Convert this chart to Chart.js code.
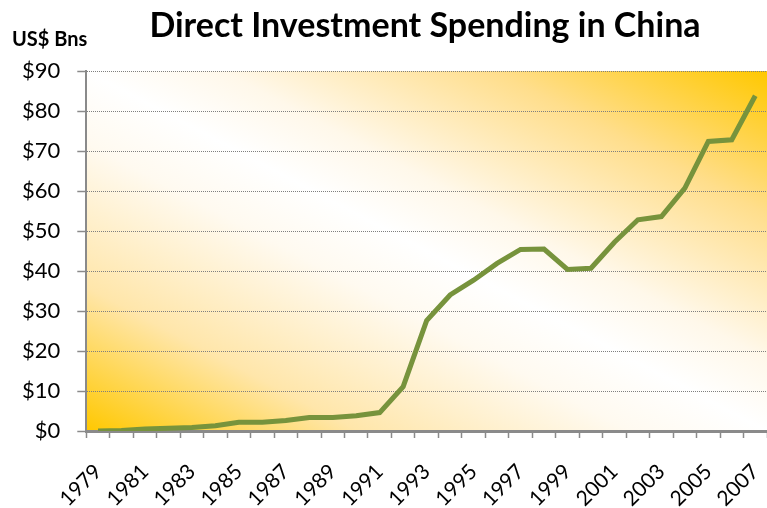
<!DOCTYPE html>
<html>
<head>
<meta charset="utf-8">
<script src="https://cdn.jsdelivr.net/npm/chart.js@4.4.1/dist/chart.umd.min.js"></script>
<style>
  body { margin: 0; background: #fff; }
  #wrap { width: 767px; height: 508px; position: relative; }
</style>
</head>
<body>
<div id="wrap"><canvas id="fdiChart" width="767" height="508"></canvas></div>
<script>
const years = ['1979','1980','1981','1982','1983','1984','1985','1986','1987','1988',
               '1989','1990','1991','1992','1993','1994','1995','1996','1997','1998',
               '1999','2000','2001','2002','2003','2004','2005','2006','2007'];
const investment = [0.0, 0.1, 0.5, 0.7, 0.9, 1.3, 2.2, 2.2, 2.6, 3.4,
                    3.4, 3.8, 4.6, 11.1, 27.6, 34.0, 37.7, 41.9, 45.4, 45.5,
                    40.4, 40.7, 47.2, 52.8, 53.6, 60.7, 72.4, 72.8, 83.8];
const yTicks = [0, 10, 20, 30, 40, 50, 60, 70, 80, 90];

const chartTitle = 'Direct Investment Spending in China';
const unitLabel = 'US$ Bns';
const FONT = 'Lato, "DejaVu Sans", sans-serif';

const backdrop = {
    id: 'backdrop',
    beforeDraw(chart) {
        const { ctx, chartArea: a } = chart;
        const cx = (a.left + a.right) / 2, cy = (a.top + a.bottom) / 2;
        const w = a.right - a.left, h = a.bottom - a.top;
        // bands run parallel to the top-left / bottom-right diagonal
        const len = Math.hypot(w, h);
        const ux = h / len, uy = -w / len;
        const d = Math.abs((-w / 2) * ux + (h / 2) * uy);
        const g = ctx.createLinearGradient(cx - d * ux, cy - d * uy, cx + d * ux, cy + d * uy);
        g.addColorStop(0, '#ffc800');
        g.addColorStop(0.2, '#ffe6aa');
        g.addColorStop(0.4, '#fffaf0');
        g.addColorStop(0.5, '#ffffff');
        g.addColorStop(0.6, '#fff8ea');
        g.addColorStop(0.8, '#ffde8c');
        g.addColorStop(1, '#ffc800');
        ctx.save();
        ctx.fillStyle = g;
        ctx.fillRect(a.left, a.top, w, h);
        ctx.restore();
    },
    afterDraw(chart) {
        const ctx = chart.ctx;
        const xs = chart.scales.x;
        ctx.save();
        ctx.fillStyle = '#000';
        ctx.font = 'bold 34px ' + FONT;
        ctx.textAlign = 'center';
        ctx.textBaseline = 'alphabetic';
        ctx.fillText(chartTitle, 425, 37);
        ctx.font = 'bold 20px ' + FONT;
        ctx.textAlign = 'left';
        ctx.fillText(unitLabel, 12, 46);

        // year labels, every other year, slanted at 45 degrees
        ctx.font = '21px ' + FONT;
        ctx.textAlign = 'right';
        ctx.textBaseline = 'middle';
        years.forEach((yr, i) => {
            if (i % 2 !== 0) return;
            const x = xs.getPixelForTick(i);
            ctx.save();
            ctx.translate(x, xs.top + 37);
            ctx.rotate(-Math.PI / 4);
            ctx.fillText(yr, 0, 0);
            ctx.restore();
        });
        ctx.restore();
    }
};

const ctx = document.getElementById('fdiChart').getContext('2d');
new Chart(ctx, {
    type: 'line',
    data: {
        labels: years,
        datasets: [{
            label: 'Direct investment',
            data: investment,
            borderColor: '#77933c',
            borderWidth: 5,
            pointRadius: 0,
            tension: 0,
            fill: false
        }]
    },
    options: {
        responsive: false,
        animation: false,
        layout: { padding: { top: 71, right: 0, bottom: 70, left: 5 } },
        plugins: { legend: { display: false }, tooltip: { enabled: false } },
        scales: {
            x: {
                offset: true,
                grid: {
                    offset: true,
                    drawOnChartArea: false,
                    drawTicks: true,
                    tickLength: 7,
                    tickColor: '#8a8a8a',
                    tickWidth: 1.5
                },
                border: { color: '#8a8a8a', width: 3 },
                ticks: { display: false, padding: 0, autoSkip: false }
            },
            y: {
                min: yTicks[0],
                max: yTicks[yTicks.length - 1],
                afterBuildTicks: scale => { scale.ticks = yTicks.map(v => ({ value: v })); },
                grid: {
                    color: '#7f7f7f',
                    lineWidth: 1,
                    tickLength: 9,
                    tickColor: '#8a8a8a',
                    tickWidth: 1.5,
                    tickBorderDash: []
                },
                border: { color: '#8a8a8a', width: 2, dash: [1, 1] },
                ticks: {
                    padding: 17,
                    color: '#000',
                    font: { family: FONT, size: 22 },
                    callback: v => '$' + v
                }
            }
        }
    },
    plugins: [backdrop]
});
</script>
</body>
</html>
